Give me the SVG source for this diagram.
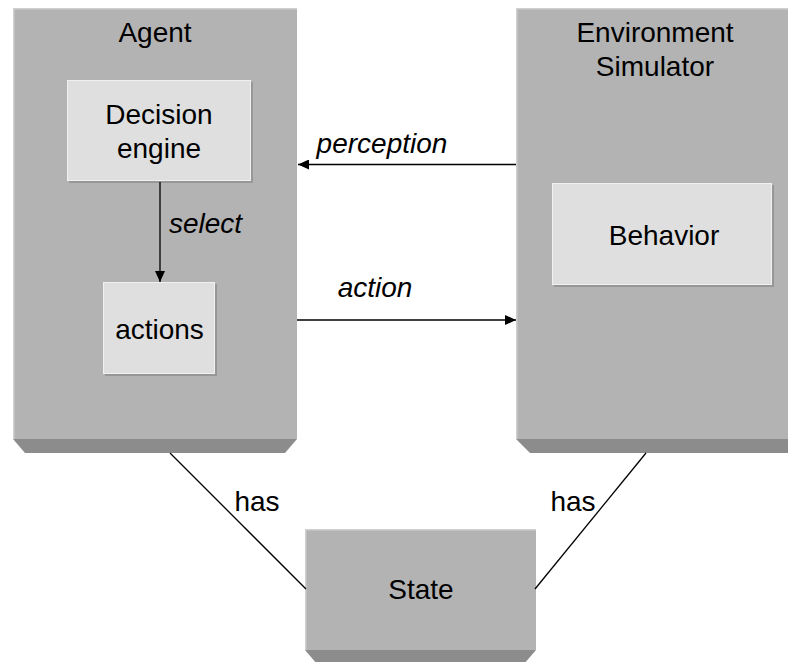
<svg xmlns="http://www.w3.org/2000/svg" width="788" height="662" viewBox="0 0 788 662">
  <style>
    .face { fill: #b3b3b3; }
    .edge { fill: #8c8c8c; }
    .lit { stroke: #cfcfcf; stroke-width: 1.5; fill: none; }
    .inner { fill: #dfdfdf; stroke: #f0f0f0; stroke-width: 1; }
    .shade { fill: #979797; }
    .lbl { font-family: "Liberation Sans", Arial, sans-serif; font-size: 28px; fill: #000; text-anchor: middle; }
    .it { font-style: italic; }
    .wire { stroke: #000; stroke-width: 1.3; fill: none; }
  </style>
  <defs>
    <marker id="tip" markerUnits="userSpaceOnUse" markerWidth="12" markerHeight="10" refX="11" refY="5" orient="auto">
      <path d="M0,0 L11,5 L0,10 Z" fill="#000"/>
    </marker>
  </defs>

  <rect width="788" height="662" fill="#fff"/>

  <!-- Agent block -->
  <g id="agent">
    <rect class="face" x="13" y="8" width="284" height="431"/>
    <path class="lit" d="M13.75,439 V8.75 H297"/>
    <polygon class="edge" points="13,439 297,439 285,453 25,453"/>
    <text class="lbl" x="155" y="42">Agent</text>
  </g>

  <g id="decision-engine">
    <rect class="shade" x="69" y="82" width="184" height="101"/>
    <rect class="inner" x="67.5" y="80.5" width="183" height="100"/>
    <text class="lbl" x="159" y="124">Decision</text>
    <text class="lbl" x="159" y="158">engine</text>
  </g>

  <g id="actions">
    <rect class="shade" x="105" y="284" width="112" height="92"/>
    <rect class="inner" x="103.5" y="282.5" width="111" height="91"/>
    <text class="lbl" x="159.5" y="339">actions</text>
  </g>

  <!-- Environment block -->
  <g id="environment">
    <rect class="face" x="516" y="8" width="290" height="431"/>
    <path class="lit" d="M516.75,439 V8.75 H806"/>
    <polygon class="edge" points="516,439 806,439 806,453 530,453"/>
    <text class="lbl" x="655" y="42">Environment</text>
    <text class="lbl" x="655" y="76">Simulator</text>
  </g>

  <g id="behavior">
    <rect class="shade" x="554" y="185" width="220" height="102"/>
    <rect class="inner" x="552.5" y="183.5" width="219" height="101"/>
    <text class="lbl" x="664" y="245">Behavior</text>
  </g>

  <!-- State block -->
  <g id="state">
    <rect class="face" x="305" y="529" width="231" height="121"/>
    <path class="lit" d="M305.75,650 V529.75 H536"/>
    <polygon class="edge" points="305,650 536,650 524,664 317,664"/>
    <text class="lbl" x="421" y="599">State</text>
  </g>

  <!-- Connectors -->
  <g id="connectors">
    <line class="wire" x1="516" y1="164.5" x2="298" y2="164.5" marker-end="url(#tip)"/>
    <line class="wire" x1="297" y1="320" x2="516" y2="320" marker-end="url(#tip)"/>
    <line class="wire" x1="160" y1="182" x2="160" y2="282" marker-end="url(#tip)"/>
    <line class="wire" x1="170" y1="453" x2="306" y2="589"/>
    <line class="wire" x1="646" y1="453" x2="535" y2="589"/>
    <text class="lbl it" x="382" y="153">perception</text>
    <text class="lbl it" x="375" y="297">action</text>
    <text class="lbl it" x="205.5" y="233">select</text>
    <text class="lbl" x="257" y="511">has</text>
    <text class="lbl" x="573" y="511">has</text>
  </g>
</svg>
